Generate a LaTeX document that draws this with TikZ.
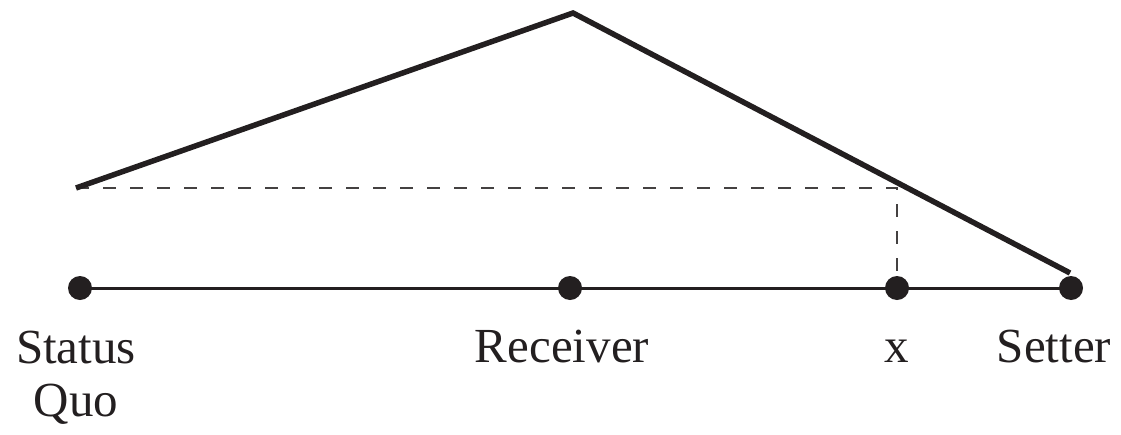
\documentclass[tikz,border=0pt]{standalone}
\usepackage{fontspec}
\setmainfont{Liberation Serif}
\definecolor{ink}{HTML}{231F20}
\begin{document}
\begin{tikzpicture}[x=1pt,y=-1pt,
  dotnode/.style={circle,fill=ink,inner sep=0pt,minimum size=24pt},
  lbl/.style={anchor=base,text=ink,font=\fontsize{49}{53}\selectfont,align=center,inner sep=0pt},
  axisline/.style={draw=ink,line width=3pt},
  curveline/.style={draw=ink,line width=5.5pt,line join=miter},
  guide/.style={draw=ink!85,line width=1.6pt,dash pattern=on 13pt off 14pt}]
\useasboundingbox (0,0) rectangle (1121,434);
\node[dotnode] (sq) at (80,288) {};
\node[dotnode] (rec) at (570,288) {};
\node[dotnode] (xx) at (897,288) {};
\node[dotnode] (set) at (1071,288) {};
\coordinate (start) at (76,188);
\coordinate (peak) at (573,13);
\coordinate (end) at (1070,273);
\coordinate (corner) at (897,188);
\draw[axisline] (sq.center) -- (set.center);
\draw[guide] (start) -- (corner) -- (xx.north);
\draw[curveline] (start) -- (peak) -- (end);
\node[lbl] (sqlbl) at (76,416) {Status\\Quo};
\node[lbl] (reclbl) at (562,362) {Receiver};
\node[lbl] (xlbl) at (897,362) {x};
\node[lbl] (setlbl) at (1054,362) {Setter};
\end{tikzpicture}
\end{document}
